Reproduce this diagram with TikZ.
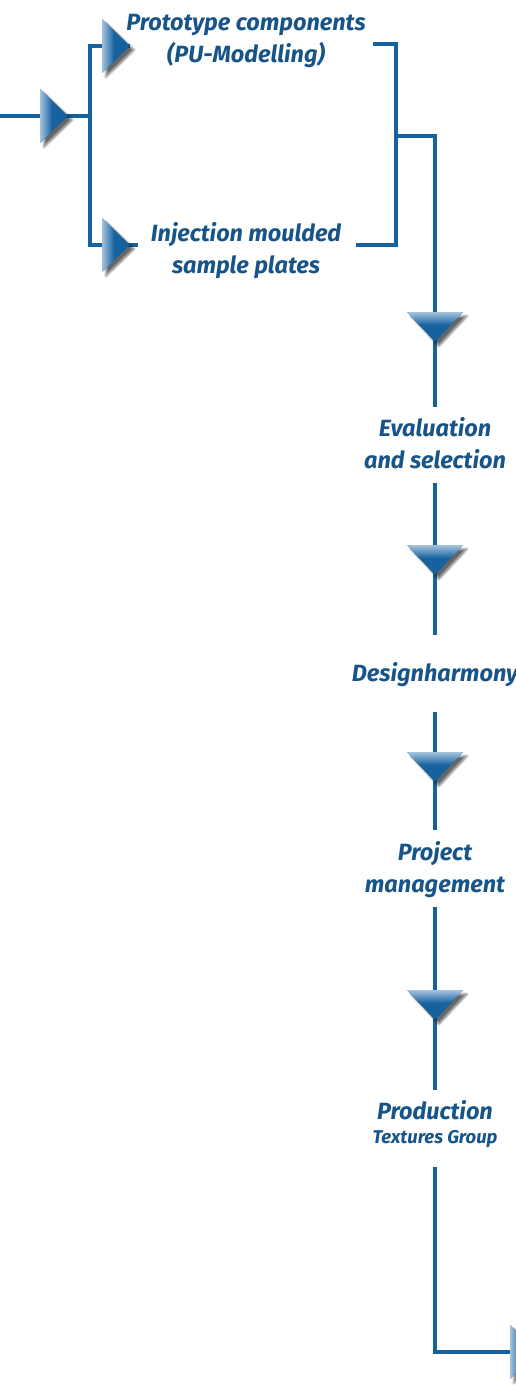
\documentclass[tikz,border=0pt]{standalone}
\usepackage{fontspec}
\setmainfont{Fira Sans}
\usetikzlibrary{shadows.blur}
\definecolor{lineblue}{RGB}{22,98,158}
\definecolor{textblue}{RGB}{22,84,138}
\definecolor{headlight}{RGB}{165,195,222}
\tikzset{
  conn/.style={draw=lineblue, line width=3.2pt},
  lbl/.style={text=textblue, font=\bfseries\itshape\fontsize{23.5}{32}\selectfont, align=center, inner sep=0pt},
  headshadow/.style={blur shadow={shadow xshift=4pt, shadow yshift=-4pt, shadow blur steps=10, shadow opacity=60}},
  rhead/.pic={
    \path[headshadow, fill=lineblue] (0,0) -- (-28,-27) -- (-28,27) -- cycle;
    \begin{scope}
      \clip (0,0) -- (-28,-27) -- (-28,27) -- cycle;
      \shade[left color=headlight, right color=lineblue] (-28,-28) rectangle (-16,28);
    \end{scope}},
  dhead/.pic={
    \path[headshadow, fill=lineblue] (0,0) -- (-28,-30) -- (28,-30) -- cycle;
    \begin{scope}
      \clip (0,0) -- (-28,-30) -- (28,-30) -- cycle;
      \shade[top color=headlight, bottom color=lineblue] (-29,-30) rectangle (29,-17);
    \end{scope}}
}
\begin{document}
\begin{tikzpicture}[x=1pt,y=-1pt]
\useasboundingbox (0,0) rectangle (516,1394);
% text nodes
\node[lbl] (proto) at (246,41) {Prototype components\\(PU-Modelling)};
\node[lbl] (inj) at (246,251) {Injection moulded\\sample plates};
\node[lbl] (eval) at (435,443) {Evaluation\\and selection};
\node[lbl] (design) at (435,675) {Designharmony};
\node[lbl] (proj) at (435,870) {Project\\management};
\node[lbl, font=\bfseries\itshape\fontsize{23.5}{24}\selectfont] (prod) at (435,1124) {Production\\{\fontsize{18.5}{19}\selectfont Textures Group}};
% coordinates
\coordinate (in0) at (0,116);
\coordinate (fork) at (90,116);
\coordinate (ftop) at (90,46);
\coordinate (fbot) at (90,245);
\coordinate (toptip) at (130,46);
\coordinate (botend) at (138,245);
\coordinate (rt1) at (373,44);
\coordinate (rt2) at (396,44);
\coordinate (rb2) at (396,245);
\coordinate (rb1) at (356,245);
\coordinate (join) at (396,136);
\coordinate (turn) at (435,136);
\coordinate (d1) at (435,407);
\coordinate (e1) at (435,483);
\coordinate (e2) at (435,635);
\coordinate (g1) at (435,712);
\coordinate (g2) at (435,830);
\coordinate (p1) at (435,907);
\coordinate (p2) at (435,1090);
\coordinate (q1) at (435,1167);
\coordinate (q2) at (435,1352);
\coordinate (q3) at (520,1352);
% connectors
\draw[conn] (in0) -- (fork);
\draw[conn] (toptip) -- (ftop) -- (fbot) -- (botend);
\draw[conn] (rt1) -- (rt2) -- (rb2) -- (rb1);
\draw[conn] (join) -- (turn) -- (d1);
\draw[conn] (e1) -- (e2);
\draw[conn] (g1) -- (g2);
\draw[conn] (p1) -- (p2);
\draw[conn] (q1) -- (q2) -- (q3);
% arrowheads
\pic at (68,116) {rhead};
\pic at (130,46) {rhead};
\pic at (130,245) {rhead};
\pic at (435,342) {dhead};
\pic at (435,575) {dhead};
\pic at (435,782) {dhead};
\pic at (435,1020) {dhead};
\pic at (538,1352) {rhead};
\end{tikzpicture}
\end{document}
